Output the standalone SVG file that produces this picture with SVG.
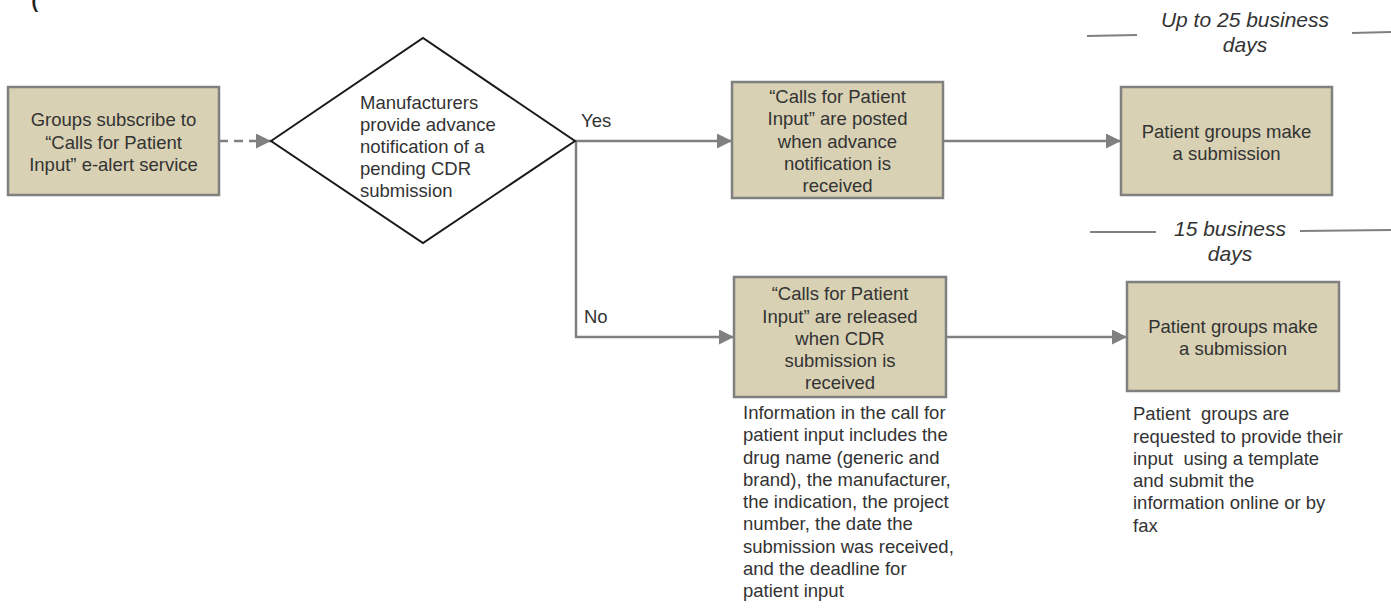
<svg xmlns="http://www.w3.org/2000/svg" width="1391" height="610" viewBox="0 0 1391 610">
<defs>
<marker id="ah" markerWidth="15" markerHeight="15" refX="15" refY="7.5" orient="auto" markerUnits="userSpaceOnUse">
<path d="M0,0 L15,7.5 L0,15 Z" fill="#808080"/>
</marker>
<style>
.box{fill:#d8d1b4;stroke:#808080;stroke-width:2.5}
.t{font-family:"Liberation Sans",Arial,sans-serif;font-size:18.5px;fill:#333333}
.c{text-anchor:middle}
.lbl{font-family:"Liberation Sans",Arial,sans-serif;font-size:21px;font-style:italic;fill:#333333;text-anchor:middle}
.conn{fill:none;stroke:#808080;stroke-width:2.5}
.rule{stroke:#808080;stroke-width:2}
</style>
</defs>
<rect width="1391" height="610" fill="#ffffff"/>
<text x="31" y="6" style="font-family:'Liberation Sans',Arial,sans-serif;font-size:30px;font-style:italic;fill:#222222">(</text>

<g id="connectors">
<path class="conn" d="M219,141 L271,141" stroke-dasharray="9,6" marker-end="url(#ah)"/>
<path class="conn" d="M575,141 L732,141" marker-end="url(#ah)"/>
<path class="conn" d="M576,141 L576,337 L734,337" marker-end="url(#ah)"/>
<path class="conn" d="M943,141 L1121,141" marker-end="url(#ah)"/>
<path class="conn" d="M946,337 L1127,337" marker-end="url(#ah)"/>
<text class="t" x="581" y="127">Yes</text>
<text class="t" x="584" y="323">No</text>
</g>

<g id="subscribe">
<rect class="box" x="8" y="87" width="211" height="108"/>
<text class="t c" x="113.5" y="126">Groups subscribe to</text>
<text class="t c" x="113.5" y="148.5">“Calls for Patient</text>
<text class="t c" x="113.5" y="171">Input” e-alert service</text>
</g>

<g id="decision">
<polygon points="271,141 423,38 575,141 423,243" fill="#ffffff" stroke="#1a1a1a" stroke-width="2"/>
<text class="t" x="360" y="109">Manufacturers</text>
<text class="t" x="360" y="131">provide advance</text>
<text class="t" x="360" y="153">notification of a</text>
<text class="t" x="360" y="175">pending CDR</text>
<text class="t" x="360" y="197">submission</text>
</g>

<g id="posted">
<rect class="box" x="732" y="82" width="211" height="116"/>
<text class="t c" x="837.5" y="103">“Calls for Patient</text>
<text class="t c" x="837.5" y="125">Input” are posted</text>
<text class="t c" x="837.5" y="148">when advance</text>
<text class="t c" x="837.5" y="170">notification is</text>
<text class="t c" x="837.5" y="192">received</text>
</g>

<g id="submit-yes">
<rect class="box" x="1121" y="87" width="211" height="108"/>
<text class="t c" x="1226.5" y="138">Patient groups make</text>
<text class="t c" x="1226.5" y="160">a submission</text>
</g>

<g id="released">
<rect class="box" x="734" y="277" width="212" height="120"/>
<text class="t c" x="840" y="300">“Calls for Patient</text>
<text class="t c" x="840" y="323">Input” are released</text>
<text class="t c" x="840" y="345">when CDR</text>
<text class="t c" x="840" y="367">submission is</text>
<text class="t c" x="840" y="389">received</text>
</g>

<g id="submit-no">
<rect class="box" x="1127" y="282" width="212" height="109"/>
<text class="t c" x="1233" y="333">Patient groups make</text>
<text class="t c" x="1233" y="355">a submission</text>
</g>

<g id="note-info">
<text class="t" x="743" y="419">Information in the call for</text>
<text class="t" x="743" y="441">patient input includes the</text>
<text class="t" x="743" y="463.5">drug name (generic and</text>
<text class="t" x="743" y="486">brand), the manufacturer,</text>
<text class="t" x="743" y="508">the indication, the project</text>
<text class="t" x="743" y="530">number, the date the</text>
<text class="t" x="743" y="552.5">submission was received,</text>
<text class="t" x="743" y="575">and the deadline for</text>
<text class="t" x="743" y="597">patient input</text>
</g>

<g id="note-template">
<text class="t" x="1133" y="420" xml:space="preserve">Patient  groups are</text>
<text class="t" x="1133" y="442.5">requested to provide their</text>
<text class="t" x="1133" y="465" xml:space="preserve">input  using a template</text>
<text class="t" x="1133" y="487">and submit the</text>
<text class="t" x="1133" y="509">information online or by</text>
<text class="t" x="1133" y="532">fax</text>
</g>

<g id="timing-25">
<line class="rule" x1="1087" y1="36" x2="1137" y2="35"/>
<line class="rule" x1="1352" y1="33" x2="1391" y2="32"/>
<text class="lbl" x="1245" y="27">Up to 25 business</text>
<text class="lbl" x="1245" y="52">days</text>
</g>

<g id="timing-15">
<line class="rule" x1="1090" y1="232" x2="1156" y2="232"/>
<line class="rule" x1="1300" y1="231" x2="1391" y2="230"/>
<text class="lbl" x="1230" y="236">15 business</text>
<text class="lbl" x="1230" y="261">days</text>
</g>
</svg>
